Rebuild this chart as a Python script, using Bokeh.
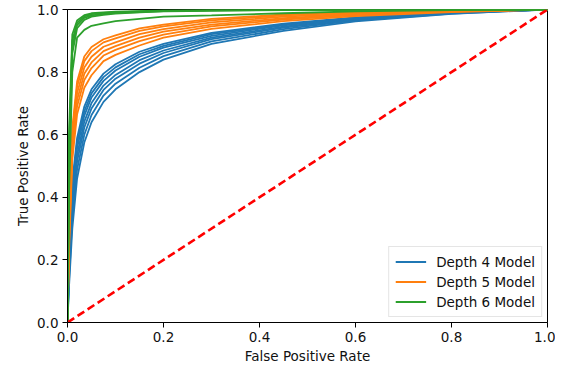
from bokeh.plotting import figure
from bokeh.models import Range1d, FixedTicker, Legend, LegendItem
from bokeh.embed import file_html
from bokeh.resources import INLINE

# False positive rate grid shared by all curves
fpr = [0, 0.003, 0.01, 0.02, 0.035, 0.05, 0.075, 0.1, 0.15, 0.2, 0.3, 0.45, 0.6, 0.8, 1.0]

depth4_tpr = [
    [0, 0.20, 0.45, 0.59, 0.69, 0.745, 0.795, 0.825, 0.865, 0.89, 0.925, 0.955, 0.975, 0.992, 1],
    [0, 0.19, 0.43, 0.575, 0.675, 0.732, 0.784, 0.815, 0.857, 0.884, 0.921, 0.952, 0.973, 0.991, 1],
    [0, 0.178, 0.41, 0.557, 0.661, 0.719, 0.772, 0.805, 0.849, 0.878, 0.916, 0.949, 0.972, 0.99, 1],
    [0, 0.162, 0.387, 0.535, 0.642, 0.701, 0.757, 0.791, 0.838, 0.869, 0.91, 0.945, 0.970, 0.989, 1],
    [0, 0.148, 0.363, 0.515, 0.623, 0.684, 0.743, 0.779, 0.827, 0.861, 0.905, 0.942, 0.967, 0.989, 1],
    [0, 0.13, 0.333, 0.489, 0.600, 0.663, 0.725, 0.763, 0.814, 0.851, 0.898, 0.937, 0.965, 0.987, 1],
    [0, 0.11, 0.30, 0.46, 0.575, 0.64, 0.705, 0.745, 0.80, 0.84, 0.89, 0.932, 0.962, 0.986, 1],
]

depth5_tpr = [
    [0, 0.32, 0.62, 0.77, 0.85, 0.88, 0.905, 0.917, 0.94, 0.952, 0.97, 0.984, 0.992, 0.997, 1],
    [0, 0.305, 0.605, 0.754, 0.835, 0.867, 0.895, 0.908, 0.932, 0.946, 0.965, 0.981, 0.990, 0.996, 1],
    [0, 0.285, 0.585, 0.733, 0.815, 0.849, 0.881, 0.895, 0.921, 0.937, 0.959, 0.977, 0.987, 0.995, 1],
    [0, 0.265, 0.565, 0.712, 0.795, 0.831, 0.867, 0.883, 0.910, 0.929, 0.952, 0.972, 0.985, 0.994, 1],
    [0, 0.245, 0.545, 0.691, 0.775, 0.813, 0.853, 0.871, 0.899, 0.920, 0.946, 0.968, 0.982, 0.993, 1],
    [0, 0.22, 0.52, 0.665, 0.75, 0.79, 0.835, 0.855, 0.885, 0.91, 0.938, 0.963, 0.979, 0.992, 1],
]

depth6_tpr = [
    [0, 0.60, 0.92, 0.965, 0.982, 0.988, 0.991, 0.993, 0.995, 0.997, 0.998, 0.999, 1, 1, 1],
    [0, 0.55, 0.90, 0.957, 0.978, 0.985, 0.989, 0.991, 0.994, 0.996, 0.998, 0.999, 1, 1, 1],
    [0, 0.50, 0.88, 0.950, 0.973, 0.981, 0.986, 0.989, 0.992, 0.995, 0.997, 0.999, 1, 1, 1],
    [0, 0.46, 0.86, 0.940, 0.967, 0.977, 0.983, 0.987, 0.991, 0.994, 0.996, 0.998, 0.999, 1, 1],
    [0, 0.40, 0.80, 0.91, 0.935, 0.948, 0.956, 0.963, 0.970, 0.977, 0.981, 0.988, 0.994, 0.998, 1],
]

model_names = ["Depth 4 Model", "Depth 5 Model", "Depth 6 Model"]
model_colors = ["#1f77b4", "#ff7f0e", "#2ca02c"]
chance_x = [0, 1]
chance_y = [0, 1]

tick_values = [0.0, 0.2, 0.4, 0.6, 0.8, 1.0]
tick_labels = ["0.0", "0.2", "0.4", "0.6", "0.8", "1.0"]

FONT = "DejaVu Sans"

p = figure(frame_width=480, frame_height=313, output_backend="svg", toolbar_location=None,
           x_range=Range1d(0, 1), y_range=Range1d(0, 1),
           min_border_left=67, min_border_right=8, min_border_top=9, min_border_bottom=38)
p.background_fill_color = "white"
p.border_fill_color = "white"
p.outline_line_color = "black"
p.outline_line_width = 1
p.xgrid.visible = False
p.ygrid.visible = False

items = []
for name, color, curves in zip(model_names, model_colors, [depth4_tpr, depth5_tpr, depth6_tpr]):
    rends = []
    for tpr in curves:
        r = p.line(fpr, tpr, line_color=color, line_width=1.8)
        rends.append(r)
    items.append(LegendItem(label=name, renderers=[rends[0]]))

p.line(chance_x, chance_y, line_color="#ff0000", line_width=2.6, line_dash="8 4")

for ax in (p.xaxis[0], p.yaxis[0]):
    ax.ticker = FixedTicker(ticks=tick_values)
    ax.major_label_overrides = {v: s for v, s in zip(tick_values, tick_labels)}
    ax.minor_tick_line_color = None
    ax.major_tick_in = 0
    ax.major_tick_out = 5
    ax.major_tick_line_color = "black"
    ax.axis_line_color = "black"
    ax.major_label_text_font = FONT
    ax.major_label_text_font_size = "13.5px"
    ax.major_label_text_color = "#111111"
    ax.major_label_standoff = 4
    ax.axis_label_text_font = FONT
    ax.axis_label_text_font_size = "13.5px"
    ax.axis_label_text_font_style = "normal"
    ax.axis_label_text_color = "#111111"
    ax.axis_label_standoff = 3

p.xaxis.axis_label = "False Positive Rate"
p.yaxis.axis_label = "True Positive Rate"

legend = Legend(items=items, location="bottom_right")
legend.label_text_font = FONT
legend.label_text_font_size = "13.5px"
legend.label_text_color = "#111111"
legend.glyph_width = 31
legend.glyph_height = 17
legend.label_height = 17
legend.label_standoff = 10
legend.spacing = 3
legend.padding = 6
legend.margin = 5
legend.border_line_color = "#cccccc"
legend.border_line_width = 1
legend.background_fill_color = "white"
legend.background_fill_alpha = 0.8
p.add_layout(legend)

open("out.html", "w").write(file_html(p, INLINE))
